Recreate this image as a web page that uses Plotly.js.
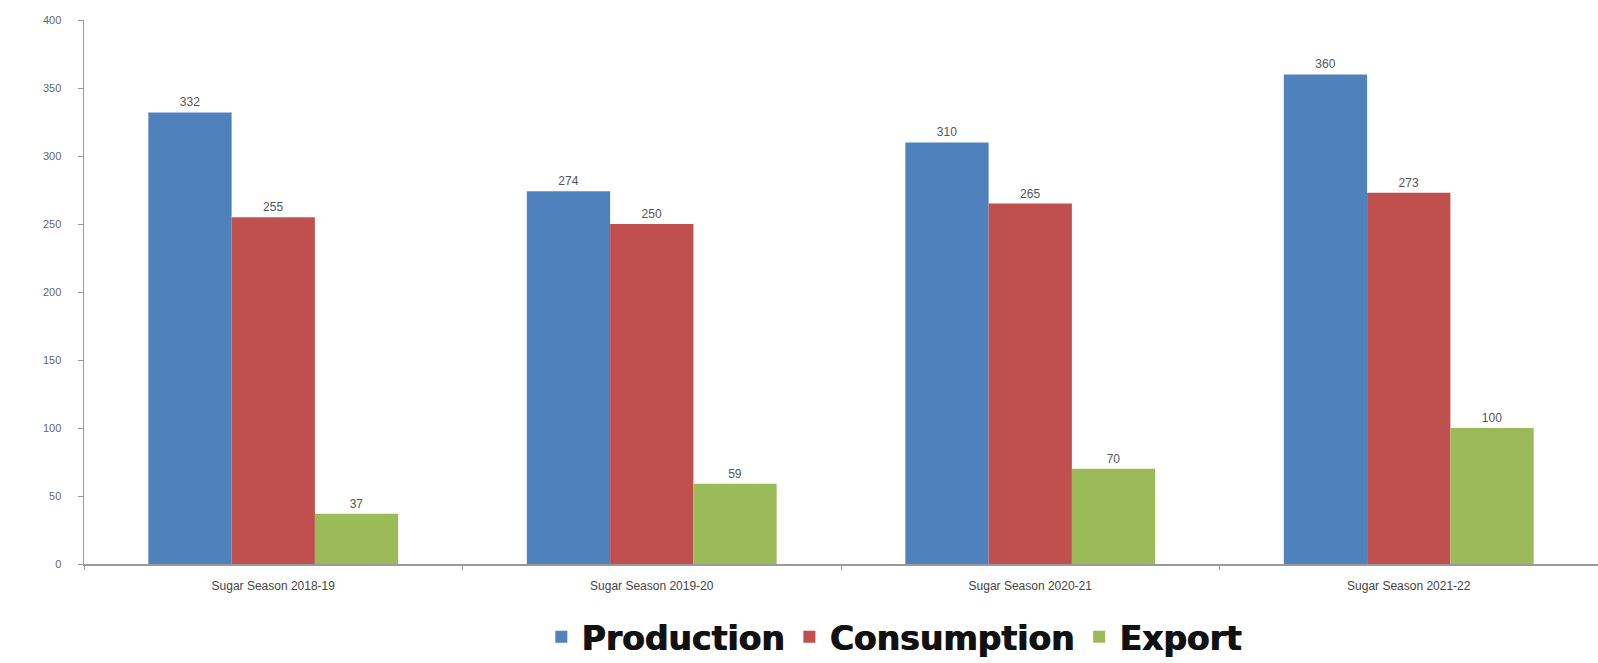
<!DOCTYPE html>
<html>
<head>
<meta charset="utf-8">
<script src="https://cdn.plot.ly/plotly-3.0.1.min.js"></script>
<style>html,body{margin:0;padding:0;background:#fff;overflow:hidden;}#chart{width:1629px;height:676px;}</style>
</head>
<body>
<div id="chart"></div>
<script>
const categories = ["Sugar Season 2018-19", "Sugar Season 2019-20", "Sugar Season 2020-21", "Sugar Season 2021-22"];
const production = [332, 274, 310, 360];
const consumption = [255, 250, 265, 273];
const exportVals = [37, 59, 70, 100];
const yTicks = [0, 50, 100, 150, 200, 250, 300, 350, 400];

function series(name, vals, color) {
  return {
    type: "bar", name: name, x: categories, y: vals,
    marker: {color: color, line: {width: 0}},
    text: vals.map(String), textposition: "outside", cliponaxis: false,
    textfont: {family: "Liberation Sans, Arial, sans-serif", size: 12, color: "#555"}
  };
}
const data = [
  series("Production", production, "#4F81BD"),
  series("Consumption", consumption, "#C0504D"),
  series("Export", exportVals, "#9BBB59")
];
const layout = {
  width: 1629, height: 676,
  margin: {l: 84, r: 31, t: 20, b: 112, autoexpand: false},
  paper_bgcolor: "#fff", plot_bgcolor: "#fff",
  barmode: "group", bargap: 0.34, bargroupgap: 0,
  showlegend: true,
  legend: {orientation: "h", xref: "container", yref: "container",
    x: 0.549, xanchor: "center", y: 0.058, yanchor: "middle",
    font: {family: "DejaVu Sans, sans-serif", size: 33, color: "#111", weight: "bold", shadow: "1px 0 0 #111"},
    itemwidth: 30, tracegroupgap: 0},
  xaxis: {type: "category", automargin: false, showline: true, linecolor: "#999", linewidth: 1.5,
    ticks: "outside", tickson: "boundaries", ticklen: 4, tickcolor: "#999",
    tickfont: {family: "Liberation Sans, Arial, sans-serif", size: 12, color: "#444"},
    ticklabelstandoff: 10,
    showgrid: false, zeroline: false},
  yaxis: {range: [0, 400], automargin: false, tickvals: yTicks, ticktext: yTicks.map(String),
    showline: true, linecolor: "#999", linewidth: 1.5, ticks: "outside", ticklen: 5, tickcolor: "#999",
    tickfont: {family: "Liberation Sans, Arial, sans-serif", size: 11, color: "#666"},
    ticklabelstandoff: 14,
    showgrid: false, zeroline: false}
};
Plotly.newPlot("chart", data, layout, {displayModeBar: false, staticPlot: true});
</script>
</body>
</html>
